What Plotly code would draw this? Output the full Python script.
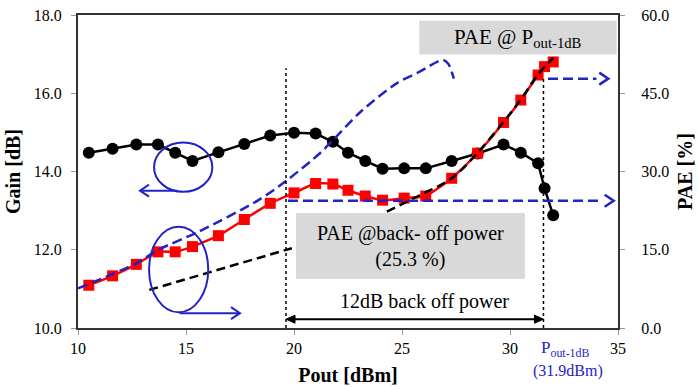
import plotly.graph_objects as go

# ---- data ----
pout = [10.5, 11.6, 12.7, 13.7, 14.5, 15.3, 16.5, 17.7, 18.9, 20.0, 21.0, 21.8,
        22.5, 23.3, 24.1, 25.1, 26.1, 27.3, 28.5, 29.7, 30.5, 31.3, 31.6, 32.0]
gain = [14.48, 14.58, 14.69, 14.69, 14.48, 14.27, 14.49, 14.70, 14.92, 14.99, 14.97, 14.76,
        14.48, 14.27, 14.07, 14.08, 14.08, 14.27, 14.46, 14.69, 14.48, 14.21, 13.57, 12.88]
pae = [8.2, 10.0, 12.2, 14.6, 14.6, 15.6, 17.7, 20.8, 23.9, 25.9, 27.7, 27.6,
       26.4, 25.3, 24.5, 24.9, 25.3, 28.7, 33.5, 39.4, 43.7, 48.5, 50.1, 51.0]

ideal_x = [10.0, 12.7, 13.7, 15.6, 18.35, 19.7, 21.2, 21.8, 23.1, 24.75, 25.8, 26.9, 27.15, 27.4]
ideal_pae = [7.6, 12.4, 14.95, 18.5, 24.5, 28.4, 33.5, 36.0, 41.5, 46.9, 49.1, 51.4, 50.6, 47.8]

fit_low_x = [13.3, 19.9]
fit_low_pae = [7.3, 15.3]
fit_high_x = [24.3, 25.8, 27.3, 28.5, 29.7, 30.5, 31.3, 32.0]
fit_high_pae = [22.3, 25.4, 28.7, 33.6, 39.5, 43.8, 48.6, 51.8]

backoff_x = 19.63
p1db_x = 31.55
pae_backoff_level = 24.4
pae_p1db_level = 47.8

x_ticks = [10, 15, 20, 25, 30, 35]
gain_ticks = [10, 12, 14, 16, 18]
pae_ticks = [0, 15, 30, 45, 60]

X_RANGE = [10, 35]
GAIN_RANGE = [10, 18]
PAE_RANGE = [0, 60]
W, H = 699, 387
ML, MR, MT, MB = 78, 81, 15, 59

BLUE = "#2323c4"
SERIF = "Liberation Serif, Times New Roman, serif"
GREY = "#d9d9d9"

# pixel -> data unit helpers (for arrow heads)
PX_X = (W - ML - MR) / (X_RANGE[1] - X_RANGE[0])
PX_Y = {"y": (H - MT - MB) / (GAIN_RANGE[1] - GAIN_RANGE[0]),
        "y2": (H - MT - MB) / (PAE_RANGE[1] - PAE_RANGE[0])}


def chevron(xt, yt, direction, yref, color, length=9, half=6, width=2.5):
    dx = direction * length / PX_X
    dy = half / PX_Y[yref]
    path = f"M {xt - dx},{yt + dy} L {xt},{yt} L {xt - dx},{yt - dy}"
    return dict(type="path", xref="x", yref=yref, path=path,
                line=dict(color=color, width=width))


def triangle(xt, yt, direction, yref, color, length=9, half=4):
    dx = direction * length / PX_X
    dy = half / PX_Y[yref]
    path = f"M {xt},{yt} L {xt - dx},{yt + dy} L {xt - dx},{yt - dy} Z"
    return dict(type="path", xref="x", yref=yref, path=path, fillcolor=color,
                line=dict(color=color, width=1))


fig = go.Figure()

fig.add_trace(go.Scatter(x=pout, y=gain, mode="lines+markers", yaxis="y",
                         line=dict(color="black", width=2.5),
                         marker=dict(symbol="circle", size=12, color="black")))
fig.add_trace(go.Scatter(x=pout, y=pae, mode="lines+markers", yaxis="y2",
                         line=dict(color="#ff0000", width=2.5, shape="spline", smoothing=0.5),
                         marker=dict(symbol="square", size=11, color="#ff0000")))
fig.add_trace(go.Scatter(x=ideal_x, y=ideal_pae, mode="lines", yaxis="y2",
                         line=dict(color=BLUE, width=2.5, dash="10px,5px", shape="spline",
                                   smoothing=0.8)))
fig.add_trace(go.Scatter(x=fit_low_x, y=fit_low_pae, mode="lines", yaxis="y2",
                         line=dict(color="black", width=2.5, dash="9px,5px")))
fig.add_trace(go.Scatter(x=fit_high_x, y=fit_high_pae, mode="lines", yaxis="y2",
                         line=dict(color="black", width=2.5, dash="9px,5px", shape="spline")))

shapes = []
# grey boxes
shapes.append(dict(type="rect", xref="x", yref="y", x0=25.8, x1=34.94, y0=16.99, y1=17.85,
                   fillcolor=GREY, line=dict(width=0), layer="below"))
shapes.append(dict(type="rect", xref="x", yref="y", x0=20.09, x1=30.69, y0=11.25, y1=12.94,
                   fillcolor=GREY, line=dict(width=0), layer="below"))
# dotted verticals
shapes.append(dict(type="line", xref="x", yref="y", x0=backoff_x, x1=backoff_x, y0=10, y1=16.64,
                   line=dict(color="black", width=1.5, dash="dot")))
shapes.append(dict(type="line", xref="x", yref="y", x0=p1db_x, x1=p1db_x, y0=10, y1=16.39,
                   line=dict(color="black", width=1.5, dash="dot")))
# blue horizontal dashed lines with open heads
shapes.append(dict(type="line", xref="x", yref="y2", x0=19.72, x1=34.2, y0=pae_backoff_level,
                   y1=pae_backoff_level, line=dict(color=BLUE, width=2.5, dash="10px,5px")))
shapes.append(chevron(34.8, pae_backoff_level, 1, "y2", BLUE))
shapes.append(dict(type="line", xref="x", yref="y2", x0=31.76, x1=34.0, y0=pae_p1db_level,
                   y1=pae_p1db_level, line=dict(color=BLUE, width=2.5, dash="10px,5px")))
shapes.append(chevron(34.55, pae_p1db_level, 1, "y2", BLUE))
# ellipses
shapes.append(dict(type="circle", xref="x", yref="y", x0=13.52, x1=16.22, y0=13.48, y1=14.74,
                   line=dict(color=BLUE, width=2)))
shapes.append(dict(type="circle", xref="x", yref="y", x0=13.29, x1=16.03, y0=10.40, y1=12.59,
                   line=dict(color=BLUE, width=2)))
# ellipse arrows
shapes.append(dict(type="line", xref="x", yref="y", x0=14.6, x1=12.9, y0=13.51, y1=13.51,
                   line=dict(color=BLUE, width=2)))
shapes.append(chevron(12.87, 13.51, -1, "y", BLUE, width=2))
shapes.append(dict(type="line", xref="x", yref="y", x0=14.7, x1=17.47, y0=10.38, y1=10.38,
                   line=dict(color=BLUE, width=2)))
shapes.append(chevron(17.5, 10.38, 1, "y", BLUE, width=2))
# double arrow (12 dB back-off span)
shapes.append(dict(type="line", xref="x", yref="y", x0=backoff_x + 0.3, x1=p1db_x - 0.3,
                   y0=10.225, y1=10.225, line=dict(color="black", width=2)))
shapes.append(triangle(p1db_x, 10.225, 1, "y", "black"))
shapes.append(triangle(backoff_x, 10.225, -1, "y", "black"))

annotations = []
annotations.append(dict(x=26.06, y=10.667, xref="x", yref="y", text="12dB back off power",
                        showarrow=False, font=dict(family=SERIF, size=20, color="black")))
annotations.append(dict(x=30.37, y=17.41, xref="x", yref="y", text="PAE @ P<sub>out-1dB</sub>",
                        showarrow=False, font=dict(family=SERIF, size=21, color="black")))
annotations.append(dict(x=25.39, y=12.08, xref="x", yref="y",
                        text="PAE @back- off power<br>(25.3 %)",
                        showarrow=False, font=dict(family=SERIF, size=20, color="black")))
annotations.append(dict(x=32.55, y=-0.108, xref="x", yref="paper", text="P<sub>out-1dB</sub>",
                        showarrow=False, font=dict(family=SERIF, size=17, color=BLUE)))
annotations.append(dict(x=32.7, y=-0.172, xref="x", yref="paper", text="(31.9dBm)",
                        showarrow=False, font=dict(family=SERIF, size=16, color=BLUE)))

fig.update_layout(
    width=W, height=H,
    margin=dict(l=ML, r=MR, t=MT, b=MB, autoexpand=False),
    paper_bgcolor="white", plot_bgcolor="white",
    showlegend=False,
    font=dict(family=SERIF, size=16, color="black"),
    xaxis=dict(range=X_RANGE, tickvals=x_ticks, showgrid=False, zeroline=False, automargin=False,
               showline=True, linecolor="#333", linewidth=2, mirror=True,
               ticks="outside", ticklen=5, tickcolor="#999",
               tickfont=dict(family=SERIF, size=16),
               title=dict(text="<b>Pout [dBm]</b>", font=dict(family=SERIF, size=20), standoff=12)),
    yaxis=dict(range=GAIN_RANGE, tickvals=gain_ticks, tickformat=".1f", showgrid=False,
               zeroline=False, showline=True, linecolor="#333", linewidth=2, automargin=False,
               ticks="outside", ticklen=5, tickcolor="#999", ticklabelstandoff=6,
               tickfont=dict(family=SERIF, size=16),
               title=dict(text="<b>Gain [dB]</b>", font=dict(family=SERIF, size=20), standoff=8)),
    yaxis2=dict(range=PAE_RANGE, tickvals=pae_ticks, tickformat=".1f", overlaying="y", side="right",
                showgrid=False, zeroline=False, showline=True, linecolor="#333", linewidth=2,
                automargin=False,
                ticks="outside", ticklen=5, tickcolor="#999", ticklabelstandoff=13,
                tickfont=dict(family=SERIF, size=16),
                title=dict(text="<b>PAE [%]</b>", font=dict(family=SERIF, size=20), standoff=10)),
    shapes=shapes,
    annotations=annotations,
)

fig.write_html("out.html")
